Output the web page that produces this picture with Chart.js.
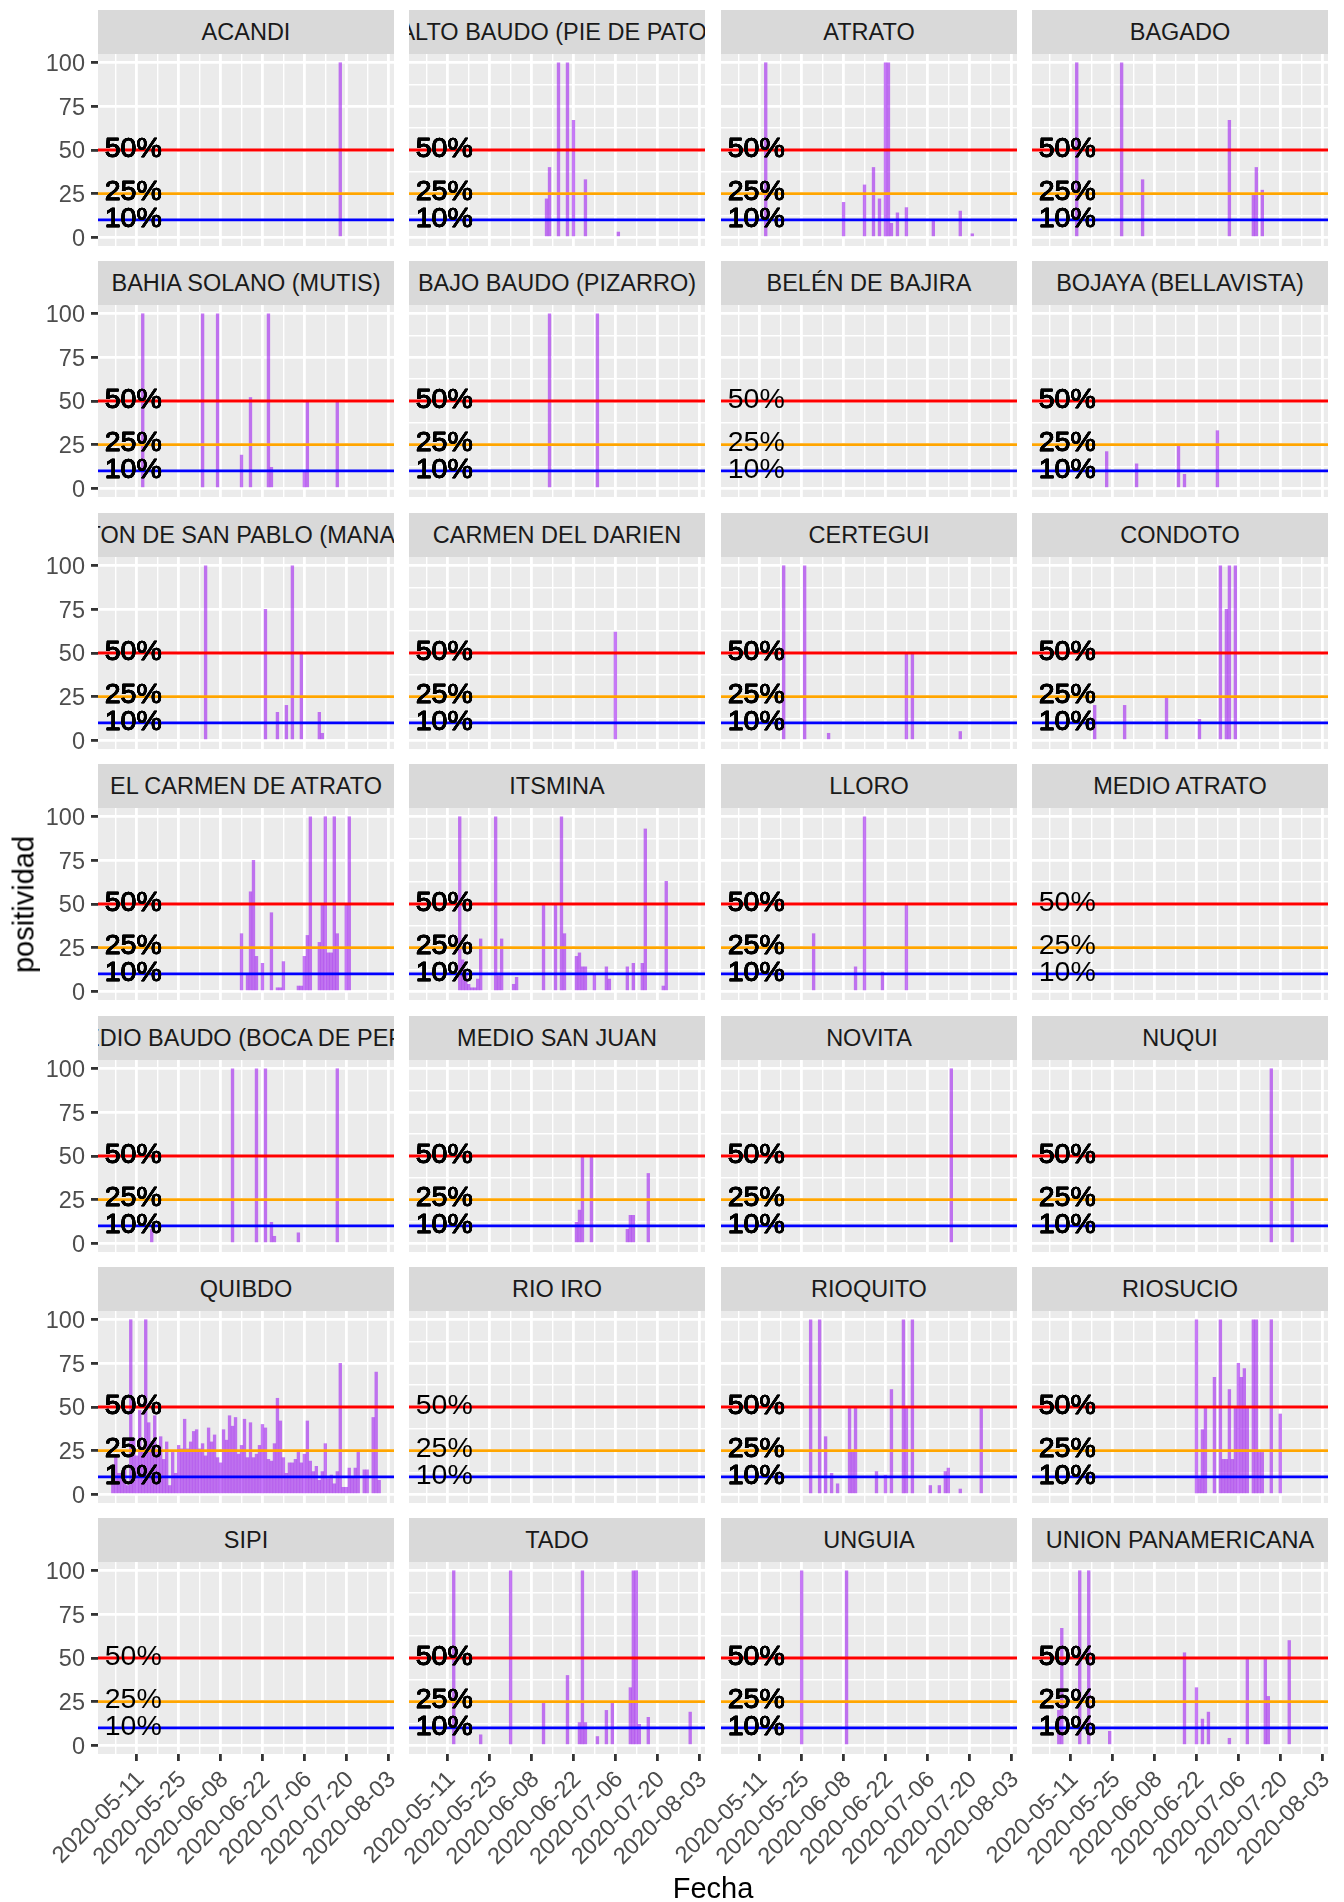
<!DOCTYPE html>
<html>
<head>
<meta charset="utf-8">
<script src="https://cdn.jsdelivr.net/npm/chart.js@4.4.1/dist/chart.umd.min.js"></script>
<style>
html,body{margin:0;padding:0;background:#ffffff;}
#root{position:relative;width:1344px;height:1902px;overflow:hidden;font-family:"Liberation Sans",Arial,Helvetica,sans-serif;}
.strip{position:absolute;background:#D9D9D9;color:#1A1A1A;font-size:23.5px;display:flex;align-items:center;justify-content:center;overflow:hidden;white-space:nowrap;}
.strip span{flex:none;}
canvas{position:absolute;}
.atitle{position:absolute;color:#000000;font-size:29px;line-height:29px;text-align:center;white-space:nowrap;}
</style>
</head>
<body>
<div id="root"></div>
<script>
// ---------------- data ----------------
const PANELS = ["ACANDI","ALTO BAUDO (PIE DE PATO)","ATRATO","BAGADO",
  "BAHIA SOLANO (MUTIS)","BAJO BAUDO (PIZARRO)","BELÉN DE BAJIRA","BOJAYA (BELLAVISTA)",
  "CANTON DE SAN PABLO (MANAGRU)","CARMEN DEL DARIEN","CERTEGUI","CONDOTO",
  "EL CARMEN DE ATRATO","ITSMINA","LLORO","MEDIO ATRATO",
  "MEDIO BAUDO (BOCA DE PEPE)","MEDIO SAN JUAN","NOVITA","NUQUI",
  "QUIBDO","RIO IRO","RIOQUITO","RIOSUCIO",
  "SIPI","TADO","UNGUIA","UNION PANAMERICANA"];

const D_ACANDI = [["2020-07-18",100]];
const D_ALTO_BAUDO = [["2020-06-13",22],["2020-06-14",40],["2020-06-17",100],["2020-06-20",100],["2020-06-22",67],["2020-06-26",33],["2020-07-07",3]];
const D_ATRATO = [["2020-05-13",100],["2020-06-08",20],["2020-06-15",30],["2020-06-18",40],["2020-06-20",22],["2020-06-22",100],["2020-06-23",100],["2020-06-24",8],["2020-06-26",14],["2020-06-29",17],["2020-07-08",10],["2020-07-17",15],["2020-07-21",2]];
const D_BAGADO = [["2020-05-13",100],["2020-05-28",100],["2020-06-04",33],["2020-07-03",67],["2020-07-11",24],["2020-07-12",40],["2020-07-14",27]];
const D_BAHIA_SOLANO = [["2020-05-13",100],["2020-06-02",100],["2020-06-07",100],["2020-06-15",19],["2020-06-18",52],["2020-06-24",100],["2020-06-25",12],["2020-07-06",10],["2020-07-07",50],["2020-07-17",50]];
const D_BAJO_BAUDO = [["2020-06-14",100],["2020-06-30",100]];
const D_BELEN = [];
const D_BOJAYA = [["2020-05-23",21],["2020-06-02",14],["2020-06-16",24],["2020-06-18",8],["2020-06-29",33]];
const D_CANTON = [["2020-06-03",100],["2020-06-23",75],["2020-06-27",16],["2020-06-30",20],["2020-07-02",100],["2020-07-05",50],["2020-07-11",16],["2020-07-12",4]];
const D_CARMEN_DARIEN = [["2020-07-06",62]];
const D_CERTEGUI = [["2020-05-19",100],["2020-05-26",100],["2020-06-03",4],["2020-06-29",50],["2020-07-01",50],["2020-07-17",5]];
const D_CONDOTO = [["2020-05-19",20],["2020-05-29",20],["2020-06-12",25],["2020-06-23",12],["2020-06-30",100],["2020-07-02",75],["2020-07-03",100],["2020-07-05",100]];
const D_EL_CARMEN = [["2020-06-15",33],["2020-06-17",10],["2020-06-18",57],["2020-06-19",75],["2020-06-20",20],["2020-06-22",16],["2020-06-25",45],["2020-06-27",2],["2020-06-28",2],["2020-06-29",17],["2020-07-04",3],["2020-07-05",3],["2020-07-06",20],["2020-07-07",32],["2020-07-08",100],["2020-07-11",28],["2020-07-12",50],["2020-07-13",100],["2020-07-14",22],["2020-07-15",22],["2020-07-16",100],["2020-07-17",33],["2020-07-20",50],["2020-07-21",100]];
const D_ITSMINA = [["2020-05-15",100],["2020-05-16",18],["2020-05-17",10],["2020-05-18",4],["2020-05-19",2],["2020-05-20",2],["2020-05-21",7],["2020-05-22",30],["2020-05-27",100],["2020-05-28",9],["2020-05-29",30],["2020-06-02",4],["2020-06-03",8],["2020-06-12",50],["2020-06-16",50],["2020-06-18",100],["2020-06-19",33],["2020-06-23",20],["2020-06-24",22],["2020-06-25",14],["2020-06-26",14],["2020-06-29",10],["2020-07-03",14],["2020-07-04",7],["2020-07-10",14],["2020-07-12",16],["2020-07-15",16],["2020-07-16",93],["2020-07-22",3],["2020-07-23",63]];
const D_LLORO = [["2020-05-29",33],["2020-06-12",14],["2020-06-15",100],["2020-06-21",11],["2020-06-29",50]];
const D_MEDIO_ATRATO = [];
const D_MEDIO_BAUDO = [["2020-05-16",8],["2020-06-12",100],["2020-06-20",100],["2020-06-23",100],["2020-06-25",12],["2020-06-26",4],["2020-07-04",6],["2020-07-17",100]];
const D_MEDIO_SAN_JUAN = [["2020-06-23",12],["2020-06-24",19],["2020-06-25",50],["2020-06-28",50],["2020-07-10",8],["2020-07-11",16],["2020-07-12",16],["2020-07-17",40]];
const D_NOVITA = [["2020-07-14",100]];
const D_NUQUI = [["2020-07-17",100],["2020-07-24",50]];
const D_QUIBDO = [["2020-05-03",8],["2020-05-04",22],["2020-05-05",12],["2020-05-06",12],["2020-05-07",14],["2020-05-08",5],["2020-05-09",100],["2020-05-10",32],["2020-05-11",22],["2020-05-12",48],["2020-05-13",25],["2020-05-14",100],["2020-05-15",41],["2020-05-16",30],["2020-05-17",45],["2020-05-18",24],["2020-05-19",33],["2020-05-20",20],["2020-05-21",30],["2020-05-22",5],["2020-05-23",24],["2020-05-24",12],["2020-05-25",28],["2020-05-26",26],["2020-05-27",43],["2020-05-28",26],["2020-05-29",30],["2020-05-30",36],["2020-05-31",37],["2020-06-01",26],["2020-06-02",29],["2020-06-03",22],["2020-06-04",38],["2020-06-05",30],["2020-06-06",34],["2020-06-07",21],["2020-06-08",18],["2020-06-09",37],["2020-06-10",31],["2020-06-11",45],["2020-06-12",39],["2020-06-13",44],["2020-06-14",23],["2020-06-15",28],["2020-06-16",43],["2020-06-17",21],["2020-06-18",41],["2020-06-19",21],["2020-06-20",23],["2020-06-21",28],["2020-06-22",40],["2020-06-23",38],["2020-06-24",20],["2020-06-25",19],["2020-06-26",29],["2020-06-27",55],["2020-06-28",42],["2020-06-29",21],["2020-06-30",12],["2020-07-01",18],["2020-07-02",18],["2020-07-03",20],["2020-07-04",24],["2020-07-05",18],["2020-07-06",23],["2020-07-07",42],["2020-07-08",19],["2020-07-09",13],["2020-07-10",16],["2020-07-11",8],["2020-07-12",13],["2020-07-13",29],["2020-07-14",9],["2020-07-15",11],["2020-07-16",6],["2020-07-17",13],["2020-07-18",75],["2020-07-19",4],["2020-07-20",4],["2020-07-21",15],["2020-07-22",10],["2020-07-23",15],["2020-07-24",24],["2020-07-26",14],["2020-07-27",14],["2020-07-29",44],["2020-07-30",70],["2020-07-31",8]];
const D_RIO_IRO = [];
const D_RIOQUITO = [["2020-05-28",100],["2020-05-31",100],["2020-06-02",33],["2020-06-04",12],["2020-06-06",6],["2020-06-10",50],["2020-06-11",25],["2020-06-12",50],["2020-06-19",13],["2020-06-22",11],["2020-06-24",60],["2020-06-28",100],["2020-06-29",50],["2020-07-01",100],["2020-07-07",5],["2020-07-10",5],["2020-07-12",13],["2020-07-13",15],["2020-07-17",3],["2020-07-24",50]];
const D_RIOSUCIO = [["2020-06-22",100],["2020-06-23",9],["2020-06-24",37],["2020-06-25",50],["2020-06-28",67],["2020-06-30",100],["2020-07-01",20],["2020-07-02",20],["2020-07-03",60],["2020-07-04",20],["2020-07-05",50],["2020-07-06",75],["2020-07-07",67],["2020-07-08",72],["2020-07-09",50],["2020-07-11",100],["2020-07-12",100],["2020-07-13",24],["2020-07-14",24],["2020-07-17",100],["2020-07-20",46]];
const D_SIPI = [];
const D_TADO = [["2020-05-13",100],["2020-05-22",6],["2020-06-01",100],["2020-06-12",24],["2020-06-20",40],["2020-06-24",13],["2020-06-25",100],["2020-06-26",13],["2020-06-30",5],["2020-07-03",20],["2020-07-05",24],["2020-07-11",33],["2020-07-12",100],["2020-07-13",100],["2020-07-14",12],["2020-07-17",16],["2020-07-31",19]];
const D_UNGUIA = [["2020-05-25",100],["2020-06-09",100]];
const D_UNION = [["2020-05-07",20],["2020-05-08",67],["2020-05-14",100],["2020-05-17",100],["2020-05-24",8],["2020-06-18",53],["2020-06-22",33],["2020-06-24",15],["2020-06-26",19],["2020-07-03",4],["2020-07-09",50],["2020-07-15",50],["2020-07-16",28],["2020-07-23",60]];

const SERIES = [D_ACANDI,D_ALTO_BAUDO,D_ATRATO,D_BAGADO,D_BAHIA_SOLANO,D_BAJO_BAUDO,D_BELEN,D_BOJAYA,
  D_CANTON,D_CARMEN_DARIEN,D_CERTEGUI,D_CONDOTO,D_EL_CARMEN,D_ITSMINA,D_LLORO,D_MEDIO_ATRATO,
  D_MEDIO_BAUDO,D_MEDIO_SAN_JUAN,D_NOVITA,D_NUQUI,D_QUIBDO,D_RIO_IRO,D_RIOQUITO,D_RIOSUCIO,
  D_SIPI,D_TADO,D_UNGUIA,D_UNION];

const X_TICK_DATES = ["2020-05-11","2020-05-25","2020-06-08","2020-06-22","2020-07-06","2020-07-20","2020-08-03"];
const Y_TICKS = [0,25,50,75,100];
const REF_VALUES = [50,25,10];
const REF_LABELS = ["50%","25%","10%"];
const REF_COLORS = ["#FF0000","#FFA500","#0000FF"];
const X_TITLE = "Fecha";
const Y_TITLE = "positividad";

// ---------------- layout / style ----------------
const FONT = '"Liberation Sans", Arial, Helvetica, sans-serif';
const COL_LEFT = [98,409,721,1032], PANEL_W = 296;
const ROW_TOP = [10,261,513,764,1016,1267,1518], STRIP_H = 44, PLOT_H = 192;
const BAR_COLOR = 'rgba(160,32,240,0.6)';
const LABEL_DAY = -10.7;

const DAY0 = Date.UTC(2020,4,11);
function toDay(s){ const p = s.split('-').map(Number); return (Date.UTC(p[0],p[1]-1,p[2]) - DAY0)/86400000; }
function fmtDay(v){ return new Date(DAY0 + Math.round(v)*86400000).toISOString().slice(0,10); }

// x range like ggplot: bar extent +/- 0.45 day, expanded 5%
let allDays = [];
SERIES.forEach(s => s.forEach(p => allDays.push(toDay(p[0]))));
const dMin = Math.min(...allDays) - 0.45, dMax = Math.max(...allDays) + 0.45;
const X_MIN = dMin - 0.05*(dMax-dMin), X_MAX = dMax + 0.05*(dMax-dMin);
const Y_MIN = 0 - 0.05*100, Y_MAX = 100 + 0.05*100;

const X_MAJOR = X_TICK_DATES.map(toDay);
let X_GRID = [];
X_MAJOR.forEach((m,i) => { if (m-7 > X_MIN && (i===0)) X_GRID.push(m-7); X_GRID.push(m); if (m+7 < X_MAX) X_GRID.push(m+7); });
X_GRID = Array.from(new Set(X_GRID)).sort((a,b)=>a-b);
let Y_GRID = [];
Y_TICKS.forEach((t,i) => { Y_GRID.push(t); if (i < Y_TICKS.length-1) Y_GRID.push((t+Y_TICKS[i+1])/2); });
const isMajorX = v => X_MAJOR.some(m => Math.abs(m-v) < 1e-6);
const isMajorY = v => Y_TICKS.some(m => Math.abs(m-v) < 1e-6);

const BAR_PX = 0.9 * PANEL_W / (X_MAX - X_MIN);

const bgPlugin = {
  id: 'panelBg',
  beforeDraw(chart){
    const {ctx, chartArea:a} = chart;
    ctx.save(); ctx.fillStyle = '#EBEBEB';
    ctx.fillRect(a.left, a.top, a.right-a.left, a.bottom-a.top);
    ctx.restore();
  }
};
const refPlugin = {
  id: 'refs',
  afterDatasetsDraw(chart, args, opts){
    const {ctx, chartArea:a, scales} = chart;
    const x = scales.x, y = scales.y;
    ctx.save();
    ctx.beginPath(); ctx.rect(a.left, a.top, a.right-a.left, a.bottom-a.top); ctx.clip();
    REF_VALUES.forEach((v,i) => {
      const py = y.getPixelForValue(v);
      ctx.strokeStyle = REF_COLORS[i]; ctx.lineWidth = 2.8;
      ctx.beginPath(); ctx.moveTo(a.left, py); ctx.lineTo(a.right, py); ctx.stroke();
    });
    ctx.font = '28.5px ' + FONT; ctx.fillStyle = '#000000'; ctx.strokeStyle = '#000000';
    ctx.textAlign = 'left'; ctx.textBaseline = 'middle';
    ctx.lineWidth = 0.6; ctx.lineJoin = 'round';
    const lx = x.getPixelForValue(LABEL_DAY);
    for (let n = 0; n < (opts.repeat||1); n++) {
      REF_VALUES.forEach((v,i) => {
        const ty = y.getPixelForValue(v) - 1;
        ctx.fillText(REF_LABELS[i], lx, ty);
        if (opts.heavy) ctx.strokeText(REF_LABELS[i], lx, ty);
      });
    }
    ctx.restore();
  }
};

const root = document.getElementById('root');

PANELS.forEach((name, i) => {
  const r = Math.floor(i/4), c = i%4;
  const isBottom = r === ROW_TOP.length-1, isLeft = c === 0;
  const strip = document.createElement('div');
  strip.className = 'strip';
  Object.assign(strip.style, {left: COL_LEFT[c]+'px', top: ROW_TOP[r]+'px', width: PANEL_W+'px', height: STRIP_H+'px'});
  const sp = document.createElement('span'); sp.textContent = name; strip.appendChild(sp);
  root.appendChild(strip);

  const leftExtra = isLeft ? 98 : (isBottom ? 56 : 0);
  const rightExtra = isBottom ? 16 : 0;
  const bottomExtra = isBottom ? 120 : 0;
  const cv = document.createElement('canvas');
  const W = leftExtra + PANEL_W + rightExtra, H = PLOT_H + bottomExtra;
  cv.width = W; cv.height = H;
  Object.assign(cv.style, {left: (COL_LEFT[c]-leftExtra)+'px', top: (ROW_TOP[r]+STRIP_H)+'px', width: W+'px', height: H+'px'});
  root.appendChild(cv);

  const data = SERIES[i].map(p => ({x: toDay(p[0]), y: p[1]}));
  const hasData = SERIES[i].length > 0;
  new Chart(cv.getContext('2d'), {
    type: 'bar',
    data: { datasets: [{ data, backgroundColor: BAR_COLOR, borderWidth: 0, barThickness: BAR_PX }] },
    options: {
      responsive: false, animation: false, events: [],
      layout: { padding: { left: 0, right: rightExtra, top: 0, bottom: 0 } },
      plugins: { legend: {display:false}, tooltip: {enabled:false}, refs: { repeat: hasData ? 4 : 1, heavy: hasData } },
      scales: {
        x: {
          type: 'linear', min: X_MIN, max: X_MAX, offset: false,
          grid: {
            offset: false, color: '#FFFFFF',
            lineWidth: ctx => (ctx.tick && isMajorX(ctx.tick.value)) ? 2.8 : 1.4,
            drawTicks: isBottom, tickLength: 7,
            tickColor: ctx => (ctx.tick && isMajorX(ctx.tick.value)) ? '#333333' : 'rgba(0,0,0,0)',
            tickWidth: 2.8
          },
          border: { display: false },
          ticks: {
            display: isBottom, autoSkip: false, maxRotation: 45, minRotation: 45,
            padding: 5, labelOffset: 4, color: '#4D4D4D', font: { family: FONT, size: 23.5 },
            callback: v => isMajorX(v) ? fmtDay(v) : ''
          },
          afterBuildTicks: s => { s.ticks = X_GRID.map(v => ({value: v})); },
          afterFit: s => { s.height = bottomExtra; s.paddingLeft = 0; s.paddingRight = 0; s.paddingTop = 0; s.paddingBottom = 0; }
        },
        y: {
          type: 'linear', min: Y_MIN, max: Y_MAX,
          grid: {
            color: '#FFFFFF',
            lineWidth: ctx => (ctx.tick && isMajorY(ctx.tick.value)) ? 2.8 : 1.4,
            drawTicks: isLeft, tickLength: 7,
            tickColor: ctx => (ctx.tick && isMajorY(ctx.tick.value)) ? '#333333' : 'rgba(0,0,0,0)',
            tickWidth: 2.8
          },
          border: { display: false },
          ticks: {
            display: isLeft, padding: 6, labelOffset: 2, color: '#4D4D4D', font: { family: FONT, size: 23.5 },
            callback: v => isMajorY(v) ? String(v) : ''
          },
          afterBuildTicks: s => { s.ticks = Y_GRID.map(v => ({value: v})); },
          afterFit: s => { s.width = leftExtra; s.paddingLeft = 0; s.paddingRight = 0; s.paddingTop = 0; s.paddingBottom = 0; }
        }
      }
    },
    plugins: [bgPlugin, refPlugin]
  });
});

// axis titles
const xt = document.createElement('div');
xt.className = 'atitle'; xt.textContent = X_TITLE;
Object.assign(xt.style, {left: COL_LEFT[0]+'px', width: (COL_LEFT[3]+PANEL_W-COL_LEFT[0])+'px', top: '1874px', height: '29px'});
root.appendChild(xt);
const yt = document.createElement('div');
yt.className = 'atitle'; yt.textContent = Y_TITLE;
Object.assign(yt.style, {left: (24-200)+'px', width: '400px', top: (904-14.5)+'px', height: '29px', transform: 'rotate(-90deg)'});
root.appendChild(yt);
</script>
</body>
</html>
